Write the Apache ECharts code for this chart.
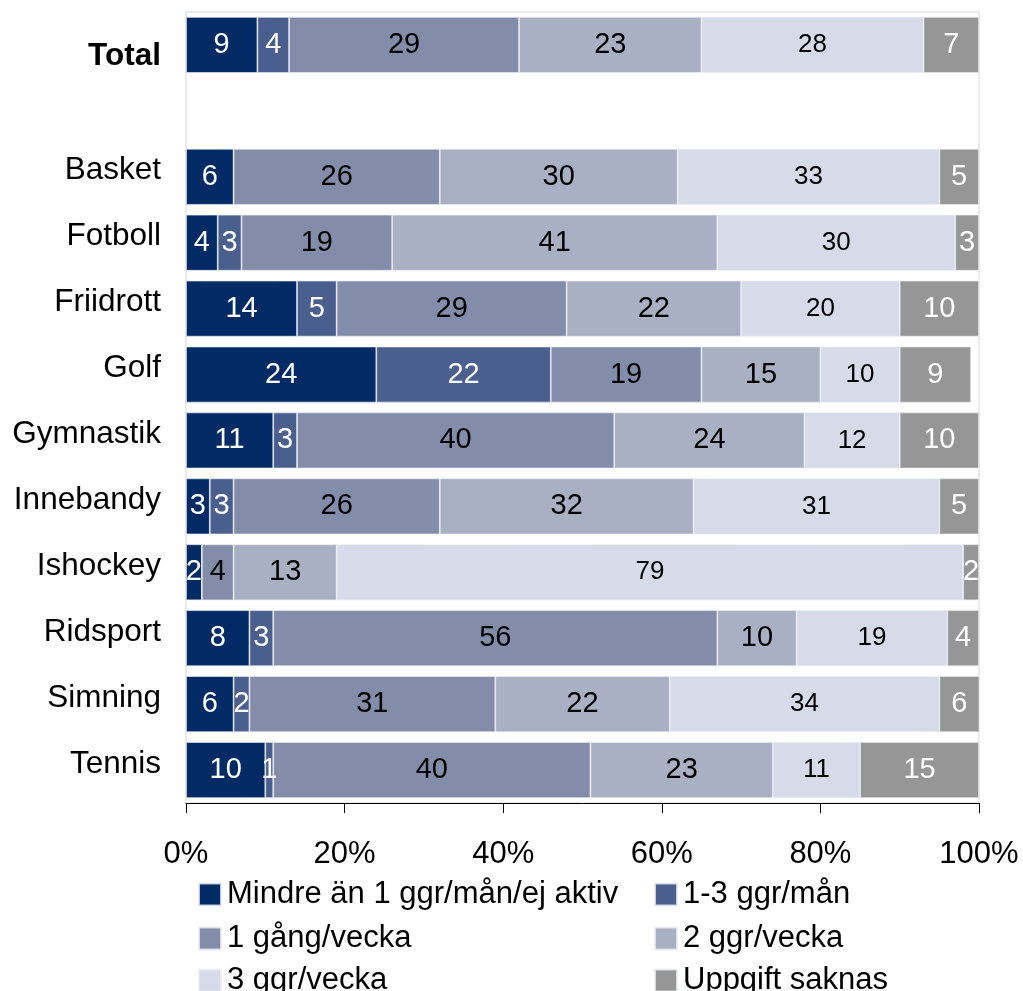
<!DOCTYPE html>
<html>
<head>
<meta charset="utf-8">
<script src="https://cdn.jsdelivr.net/npm/echarts@6/dist/echarts.min.js"></script>
<style>
  html, body { margin: 0; padding: 0; background: #fff; }
  #chart { width: 1023px; height: 991px; }
</style>
</head>
<body>
<div id="chart"></div>
<script>
// Categories top to bottom; the empty entry leaves a gap under "Total"
const categories = ['Total', '', 'Basket', 'Fotboll', 'Friidrott', 'Golf', 'Gymnastik',
  'Innebandy', 'Ishockey', 'Ridsport', 'Simning', 'Tennis'];

const seriesNames = ['Mindre än 1 ggr/mån/ej aktiv', '1-3 ggr/mån', '1 gång/vecka',
  '2 ggr/vecka', '3 ggr/vecka', 'Uppgift saknas'];

// Percent per category (same order as categories)
const mindre    = [9, null, 6, 4, 14, 24, 11, 3, 2, 8, 6, 10];
const ggrMan    = [4, null, 0, 3, 5, 22, 3, 3, 0, 3, 2, 1];
const gangVecka = [29, null, 26, 19, 29, 19, 40, 26, 4, 56, 31, 40];
const tvaVecka  = [23, null, 30, 41, 22, 15, 24, 32, 13, 10, 22, 23];
const treVecka  = [28, null, 33, 30, 20, 10, 12, 31, 79, 19, 34, 11];
const saknas    = [7, null, 5, 3, 10, 9, 10, 5, 2, 4, 6, 15];

const xTicks = [0, 20, 40, 60, 80, 100];

const colors = ['#022b66', '#4a5f8e', '#838ca8', '#aab0c4', '#d7dae8', '#969696'];
const labelColors = ['#fff', '#fff', '#000', '#000', '#000', '#fff'];
const labelSizes = [29, 29, 29, 29, 26, 29];
const values = [mindre, ggrMan, gangVecka, tvaVecka, treVecka, saknas];

const FONT = '"Liberation Sans", Arial, sans-serif';

const series = seriesNames.map((name, i) => ({
  name: name,
  type: 'bar',
  stack: 'all',
  barCategoryGap: '15%',
  data: values[i],
  itemStyle: { color: colors[i], borderColor: 'rgba(235,237,243,0.8)', borderWidth: 0.8 },
  label: {
    show: true,
    position: 'inside',
    color: labelColors[i],
    fontSize: labelSizes[i],
    fontFamily: FONT,
    formatter: p => (p.value ? String(p.value) : '')
  },
  emphasis: { disabled: true }
}));

// Legend: two columns of three rows, one legend block per entry
const legendCols = [198, 654];
const legendRows = [879, 923, 965];
const legends = seriesNames.map((name, i) => ({
  orient: 'horizontal',
  left: legendCols[i % 2],
  top: legendRows[Math.floor(i / 2)],
  padding: 0,
  itemWidth: 22,
  itemHeight: 22,
  icon: 'rect',
  textStyle: { fontSize: 31, fontFamily: FONT, color: '#000', padding: [0, 0, 0, 1] },
  data: [name]
}));

const chart = echarts.init(document.getElementById('chart'), null, { renderer: 'canvas' });

chart.setOption({
  animation: false,
  backgroundColor: '#fff',
  grid: {
    left: 186, right: 44, top: 12, bottom: 188,
    show: true, borderColor: '#d3d7e2', borderWidth: 1, backgroundColor: 'transparent'
  },
  xAxis: {
    type: 'value',
    min: 0, max: 100, interval: 20,
    axisLine: { show: true, lineStyle: { color: '#000', width: 1 } },
    axisTick: { show: true, length: 10, lineStyle: { color: '#000' } },
    splitLine: { show: false },
    axisLabel: {
      margin: 36,
      fontSize: 31,
      fontFamily: FONT,
      color: '#000',
      formatter: v => (xTicks.includes(v) ? v + '%' : '')
    }
  },
  yAxis: {
    type: 'category',
    data: categories,
    inverse: true,
    axisLine: { show: false },
    axisTick: { show: false },
    axisLabel: {
      margin: 25,
      fontSize: 31.5,
      fontFamily: FONT,
      color: '#000',
      formatter: v => (v === 'Total' ? '{b|Total}' : (v ? '{n|' + v + '}' : '')),
      rich: {
        b: { fontWeight: 'bold', fontSize: 31.5, fontFamily: FONT, color: '#000', padding: [22, 0, 0, 0] },
        n: { fontSize: 31.5, fontFamily: FONT, color: '#000', padding: [0, 0, 12, 0] }
      }
    }
  },
  legend: legends,
  series: series
});
</script>
</body>
</html>
